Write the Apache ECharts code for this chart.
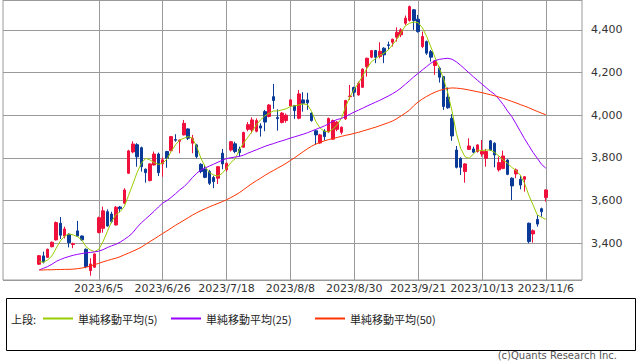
<!DOCTYPE html>
<html><head><meta charset="utf-8">
<script src="https://cdn.jsdelivr.net/npm/echarts@6/dist/echarts.min.js"></script>
<style>html,body{margin:0;padding:0;background:#fff}#c{width:638px;height:362px}</style>
</head><body><div id="c"></div>
<script>
const dates = [
'2023/5/16','2023/5/17','2023/5/18','2023/5/19','2023/5/22','2023/5/23','2023/5/24','2023/5/25','2023/5/26','2023/5/29','2023/5/30','2023/5/31',
'2023/6/1','2023/6/2','2023/6/5','2023/6/6','2023/6/7','2023/6/8','2023/6/9','2023/6/12','2023/6/13','2023/6/14','2023/6/15','2023/6/16','2023/6/19','2023/6/20','2023/6/21','2023/6/22','2023/6/23','2023/6/26','2023/6/27','2023/6/28','2023/6/29','2023/6/30',
'2023/7/3','2023/7/4','2023/7/5','2023/7/6','2023/7/7','2023/7/10','2023/7/11','2023/7/12','2023/7/13','2023/7/14','2023/7/18','2023/7/19','2023/7/20','2023/7/21','2023/7/24','2023/7/25','2023/7/26','2023/7/27','2023/7/28','2023/7/31',
'2023/8/1','2023/8/2','2023/8/3','2023/8/4','2023/8/7','2023/8/8','2023/8/9','2023/8/10','2023/8/14','2023/8/15','2023/8/16','2023/8/17','2023/8/18','2023/8/21','2023/8/22','2023/8/23','2023/8/24','2023/8/25','2023/8/28','2023/8/29','2023/8/30','2023/8/31',
'2023/9/1','2023/9/4','2023/9/5','2023/9/6','2023/9/7','2023/9/8','2023/9/11','2023/9/12','2023/9/13','2023/9/14','2023/9/15','2023/9/19','2023/9/20','2023/9/21','2023/9/22','2023/9/25','2023/9/26','2023/9/27','2023/9/28','2023/9/29',
'2023/10/2','2023/10/3','2023/10/4','2023/10/5','2023/10/6','2023/10/10','2023/10/11','2023/10/12','2023/10/13','2023/10/16','2023/10/17','2023/10/18','2023/10/19','2023/10/20','2023/10/23','2023/10/24','2023/10/25','2023/10/26','2023/10/27','2023/10/30','2023/10/31',
'2023/11/1','2023/11/2','2023/11/6'];

const openP = [3302,3341,3334,3384,3416,3494,3434,3442,3394,3458,3434,3372,3272,3288,3450,3470,3548,3537,3486,3570,
3588,3728,3828,3862,3848,3747,3694,3767,3818,3772,3830,3834,3886,3878,3908,3936,3869,3861,3770,3748,
3736,3708,3705,3822,3744,3837,3866,3841,3850,3934,3931,3925,3950,4017,3994,4087,3990,3966,3975,4044,
4045,3986,4072,4072,4010,3927,3870,3926,3922,3888,3934,3920,3983,4087,4130,4095,4131,4228,4272,4303,
4275,4314,4330,4342,4366,4377,4431,4444,4494,4450,4322,4345,4298,4233,4220,4181,4085,3986,3837,3798,
3736,3840,3842,3830,3818,3798,3880,3869,3744,3751,3790,3705,3725,3700,3700,3494,3444,3512,3562,3614];
const closeP = [3342,3312,3372,3405,3497,3438,3467,3403,3398,3434,3416,3291,3303,3350,3520,3552,3481,3502,3569,3562,
3650,3833,3865,3805,3759,3731,3772,3818,3731,3791,3798,3900,3883,3884,3962,3892,3892,3806,3736,3709,
3681,3689,3759,3772,3775,3876,3830,3825,3919,3956,3978,3975,3940,3968,4048,4069,3984,4010,4000,4072,
4022,4100,4056,4058,3975,3908,3908,3900,3985,3975,3968,3944,4069,4090,4108,4150,4216,4267,4303,4272,
4300,4283,4327,4356,4389,4400,4455,4509,4444,4392,4369,4291,4272,4255,4178,4041,4035,3903,3756,3756,
3772,3856,3827,3861,3830,3830,3837,3814,3778,3809,3723,3669,3744,3673,3712,3408,3459,3490,3548,3650];
const lowP = [3298,3306,3331,3381,3413,3420,3423,3381,3377,3431,3412,3283,3248,3284,3447,3450,3478,3494,3483,3545,
3584,3725,3822,3759,3736,3684,3690,3764,3715,3712,3754,3831,3876,3822,3905,3884,3822,3798,3728,3705,
3673,3658,3678,3747,3736,3830,3822,3806,3847,3925,3915,3920,3900,3925,3990,4030,3928,3962,3965,4040,
3983,3981,4017,4025,3970,3862,3866,3882,3918,3885,3925,3910,3978,4072,4087,4092,4128,4181,4267,4244,
4267,4244,4306,4322,4345,4366,4423,4439,4400,4387,4314,4283,4251,4189,4153,4025,4030,3880,3751,3720,
3684,3837,3822,3825,3806,3759,3833,3756,3736,3747,3719,3603,3705,3653,3642,3400,3403,3478,3525,3595];
const highP = [3345,3361,3375,3408,3502,3523,3478,3447,3403,3505,3437,3376,3330,3353,3525,3572,3559,3548,3575,3575,
3658,3838,3878,3869,3853,3751,3775,3830,3825,3803,3833,3903,3911,3886,3978,3939,3908,3866,3775,3767,
3744,3716,3762,3842,3778,3880,3876,3853,3923,3968,3990,3985,3962,4025,4052,4147,4028,4015,4008,4075,
4048,4118,4108,4105,4013,3931,3913,3935,3989,3980,3972,3948,4072,4142,4134,4158,4220,4270,4306,4306,
4342,4319,4345,4359,4412,4408,4467,4514,4498,4470,4392,4350,4306,4259,4228,4184,4130,4005,3856,3803,
3775,3892,3853,3864,3884,3842,3884,3873,3806,3834,3794,3709,3751,3720,3715,3497,3465,3532,3567,3653];

const ma5 = [3314,3311,3322,3341,3377,3412,3434,3444,3439,3431,3416,3384,3369,3361,3372,3408,3455,3502,3533,3548,
3572,3625,3677,3732,3775,3798,3791,3778,3770,3775,3794,3830,3861,3884,3892,3900,3892,3853,3798,3759,
3731,3720,3715,3728,3751,3778,3795,3837,3869,3897,3923,3955,3978,3997,4009,4020,4020,4025,4030,4041,
4044,4048,4053,4050,4017,3970,3939,3925,3922,3935,3955,3986,4041,4087,4122,4150,4185,4220,4250,4265,
4280,4291,4306,4330,4356,4387,4419,4431,4437,4434,4410,4370,4320,4270,4220,4170,4103,4017,3915,3845,
3806,3798,3819,3837,3834,3837,3837,3825,3809,3790,3775,3756,3741,3720,3681,3626,3580,3533,3522,3512];
const ma25 = [3275,3283,3291,3302,3315,3324,3332,3338,3344,3348,3352,3355,3357,3360,3363,3370,3380,3388,3395,3405,
3418,3432,3450,3475,3496,3514,3532,3550,3570,3588,3600,3615,3632,3650,3665,3685,3708,3728,3744,3753,
3762,3771,3780,3789,3797,3801,3804,3807,3813,3822,3830,3838,3846,3854,3861,3867,3874,3880,3886,3893,
3899,3905,3911,3918,3926,3934,3942,3950,3960,3972,3980,3985,3995,4005,4015,4024,4033,4043,4052,4061,
4070,4080,4090,4101,4113,4128,4145,4162,4180,4196,4212,4228,4244,4256,4262,4265,4267,4262,4250,4234,
4216,4198,4180,4163,4146,4129,4112,4098,4075,4050,4020,3994,3960,3925,3890,3858,3826,3798,3770,3752];
const ma50 = [3275,3275,3276,3276,3277,3277,3278,3278,3279,3281,3284,3288,3293,3300,3306,3313,3319,3325,3330,3337,
3346,3354,3363,3372,3382,3395,3408,3420,3433,3446,3458,3471,3484,3496,3508,3520,3532,3543,3553,3562,
3571,3579,3587,3595,3604,3614,3625,3637,3651,3666,3680,3693,3705,3718,3730,3741,3752,3763,3775,3788,
3801,3815,3829,3843,3855,3865,3873,3880,3886,3891,3896,3901,3906,3910,3915,3920,3926,3932,3938,3944,
3951,3958,3965,3973,3984,3997,4010,4024,4045,4062,4076,4088,4099,4108,4116,4122,4126,4128,4127,4125,
4122,4118,4114,4110,4106,4101,4096,4091,4085,4079,4072,4065,4058,4050,4043,4035,4026,4018,4010,4002];

const xTickLabels = ['2023/6/5','2023/6/26','2023/7/18','2023/8/8','2023/8/30','2023/9/21','2023/10/13','2023/11/6'];
const seriesNames = ['単純移動平均(5)','単純移動平均(25)','単純移動平均(50)'];

const PAD_L = 8, PAD_R = 8;
const cats = [];
for (let i = 0; i < PAD_L; i++) cats.push('padL' + i);
dates.forEach(d => cats.push(d));
for (let i = 0; i < PAD_R; i++) cats.push('padR' + i);
const pad = arr => [].concat(Array(PAD_L).fill('-'), arr, Array(PAD_R).fill('-'));
const kData = pad(dates.map((d, i) => [openP[i], closeP[i], lowP[i], highP[i]]));
const showTick = (idx, val) => xTickLabels.indexOf(val) >= 0;

const UP = '#f0103c', DOWN = '#0a3a98';
const GRID = '#9a9a9a';
const chart = echarts.init(document.getElementById('c'), null, {renderer: 'svg'});
const lineSeries = (name, data, color) => ({
  name, type: 'line', data: pad(data), showSymbol: false, symbol: 'none',
  lineStyle: {color, width: 1}, itemStyle: {color}, animation: false, z: 3
});
chart.setOption({
  animation: false,
  grid: {left: 3, right: 56, top: 0, bottom: 82, show: true, borderColor: GRID, borderWidth: 1},
  xAxis: {
    type: 'category', data: cats, boundaryGap: true,
    axisLine: {show: false}, axisTick: {show: false, alignWithLabel: true},
    axisLabel: {interval: showTick, color: '#333', fontFamily: 'DejaVu Sans', fontSize: 11, margin: 3},
    splitLine: {show: true, interval: showTick, alignWithLabel: true, lineStyle: {color: GRID, width: 1}}
  },
  yAxis: {
    type: 'value', position: 'right', min: 3228, max: 4540, splitNumber: 6, scale: true,
    axisLine: {show: false}, axisTick: {show: false},
    axisLabel: {showMinLabel: false, showMaxLabel: false, color: '#333', fontFamily: 'DejaVu Sans', fontSize: 11, margin: 9,
      formatter: v => v.toLocaleString('en-US')},
    splitLine: {show: true, lineStyle: {color: GRID, width: 1}}
  },
  legend: [
    {data: [seriesNames[0]], left: 43, top: 313},
    {data: [seriesNames[1]], left: 171, top: 313},
    {data: [seriesNames[2]], left: 315, top: 313}
  ].map(l => Object.assign(l, {orient: 'horizontal', itemWidth: 30, itemHeight: 2, icon: 'rect', itemGap: 0,
    textStyle: {fontFamily: 'Noto Sans CJK JP', fontSize: 11, color: '#222', padding: [0, 0, 0, 0]}, selectedMode: false, padding: 0})),
  graphic: [
    {type: 'rect', left: 4, top: 296, shape: {width: 629, height: 52}, style: {fill: 'none', stroke: '#000', lineWidth: 1}},
    {type: 'text', left: 11, top: 313, style: {text: '上段:', fontFamily: 'Noto Sans CJK JP', fontSize: 11, fill: '#222'}},
    {type: 'text', right: 21, top: 350, style: {text: '(c)Quants Research Inc.', fontFamily: 'DejaVu Sans', fontSize: 10, fill: '#555'}}
  ],
  series: [
    {type: 'candlestick', name: 'price', data: kData, barWidth: 3,
     itemStyle: {color: UP, color0: DOWN, borderColor: UP, borderColor0: DOWN, borderWidth: 1}, z: 2},
    lineSeries(seriesNames[0], ma5, '#99cc00'),
    lineSeries(seriesNames[1], ma25, '#9900ff'),
    lineSeries(seriesNames[2], ma50, '#ff3300')
  ]
});
</script></body></html>
